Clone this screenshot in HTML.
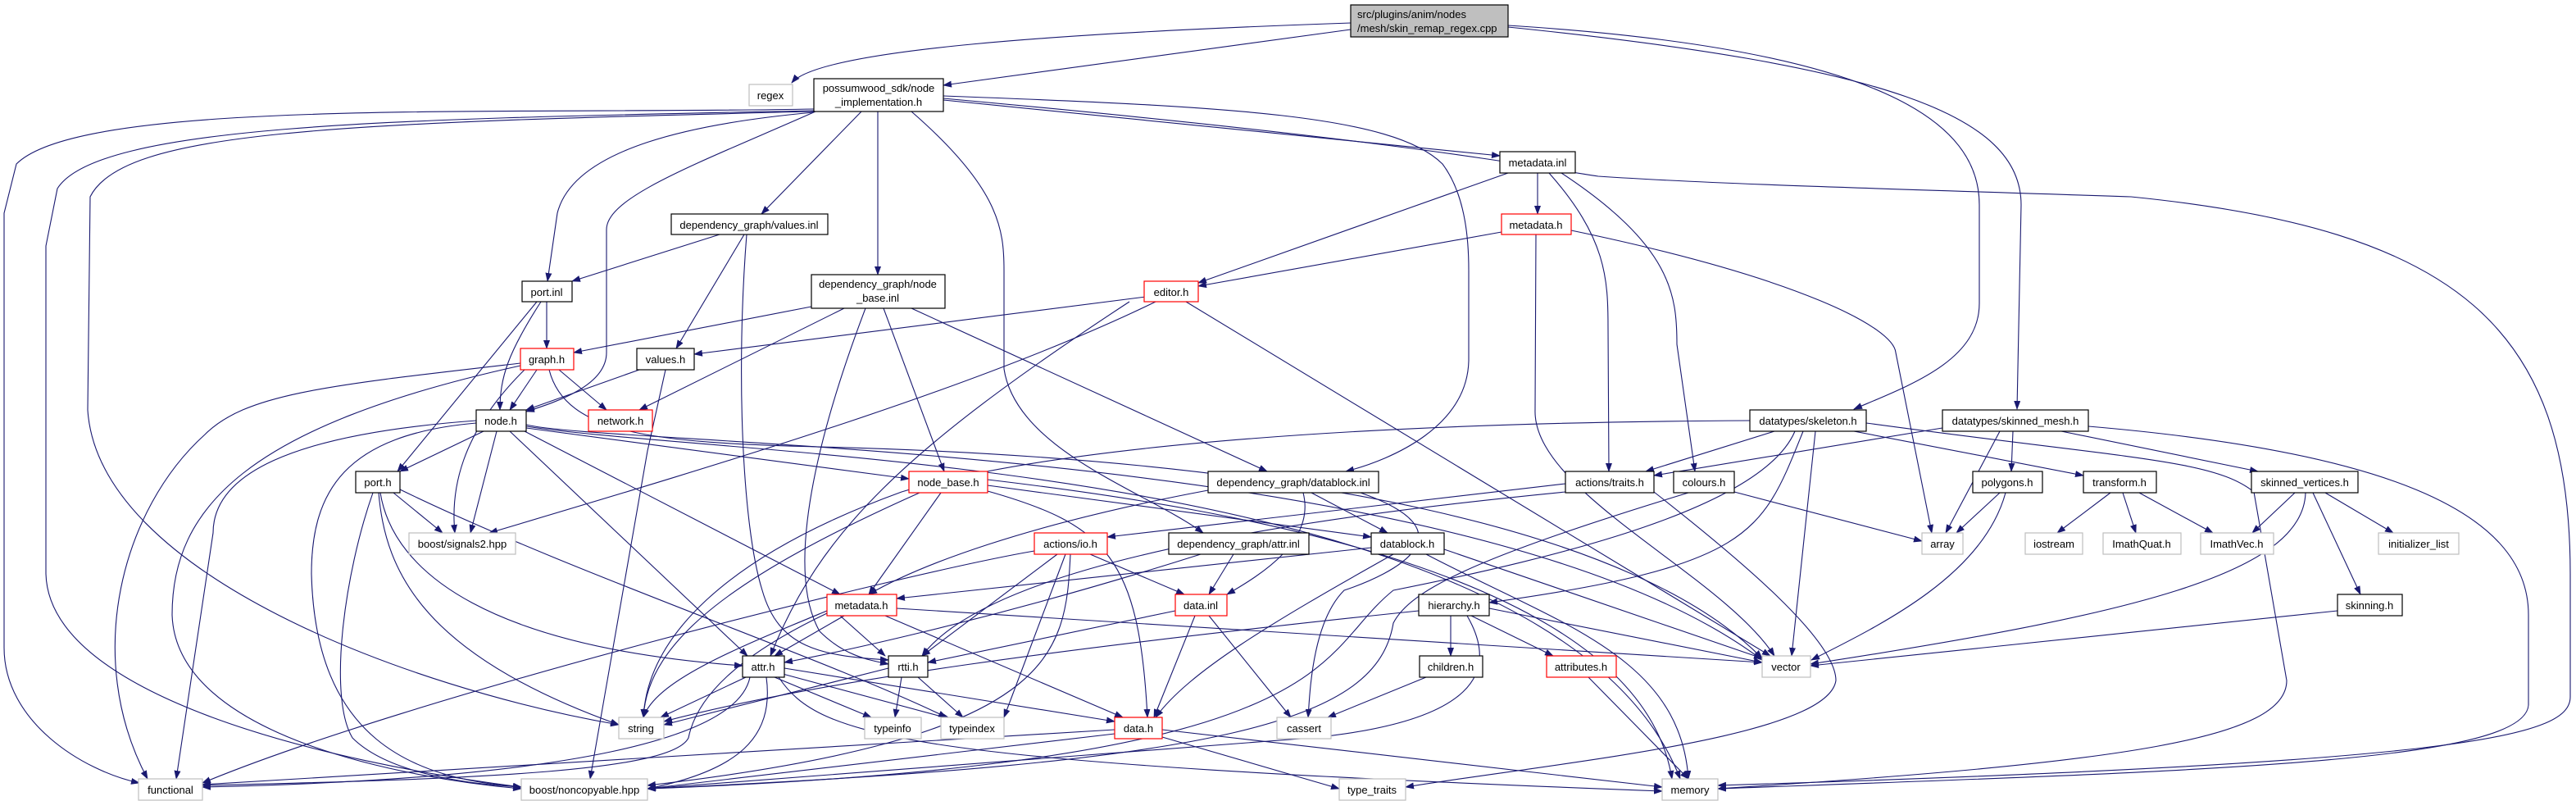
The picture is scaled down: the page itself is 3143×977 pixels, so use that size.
<!DOCTYPE html>
<html><head><meta charset="utf-8"><style>
html,body{margin:0;padding:0;background:#fff;}
svg{display:block;}
text{font-family:"Liberation Sans",sans-serif;font-size:13px;fill:#000;}
.e{fill:none;stroke:#191970;stroke-width:1.1;marker-end:url(#a);}
.b{fill:#fff;stroke:#000;stroke-width:1.2;}
.g{fill:#fff;stroke:#bfbfbf;stroke-width:1.2;}
.r{fill:#fff;stroke:#ff0000;stroke-width:1.2;}
</style></head><body>
<svg width="3143" height="977" viewBox="0 0 3143 977" xmlns="http://www.w3.org/2000/svg">
<defs><marker id="a" markerUnits="userSpaceOnUse" markerWidth="11" markerHeight="8" refX="10" refY="4" orient="auto"><path d="M0,0 L11,4 L0,8 z" fill="#191970"/></marker></defs>
<g>
<!-- src -->
<path class="e" d="M1648,28 C1300,40 1000,60 966,101"/>
<path class="e" d="M1648,36 L1151,104"/>
<path class="e" d="M1840,31 C2300,60 2415,150 2415,250 L2415,370 C2415,440 2330,470 2262,499"/>
<path class="e" d="M1840,33 C2300,80 2466,140 2466,250 L2461,499"/>
<!-- possumwood -->
<path class="e" d="M993,133 C600,140 100,120 20,200 L5,260 L5,790 C5,880 100,940 170,955"/>
<path class="e" d="M993,135 C500,145 120,150 70,230 L56,300 L56,700 C60,850 400,930 636,960"/>
<path class="e" d="M993,136 C400,150 150,160 110,240 L107,500 C120,700 500,840 755,884"/>
<path class="e" d="M993,137 C850,150 700,180 680,260 L668,343"/>
<path class="e" d="M995,136 C850,200 740,240 740,280 L740,430 C740,470 680,490 642,502"/>
<path class="e" d="M1051,136 L929,261"/>
<path class="e" d="M1071,136 L1071,335"/>
<path class="e" d="M1112,136 C1220,230 1225,280 1225,330 L1225,450 C1240,550 1400,600 1468,650"/>
<path class="e" d="M1151,117 C1500,130 1700,140 1760,200 C1790,240 1792,300 1792,330 L1792,440 C1790,520 1700,560 1642,575"/>
<path class="e" d="M1151,122 L1830,190"/>
<path class="e" d="M1151,120 C1700,170 1850,200 1950,215 C2100,225 2300,230 2600,240 C3000,280 3136,400 3136,700 L3136,850 C3136,900 3000,930 2096,958"/>
<!-- metadata.inl -->
<path class="e" d="M1840,211 L1462,345"/>
<path class="e" d="M1876,211 L1876,261"/>
<path class="e" d="M1890,211 C1960,290 1962,340 1962,400 L1963,575"/>
<path class="e" d="M1905,211 C2040,300 2046,360 2046,420 L2068,575"/>
<!-- metadata.h upper -->
<path class="e" d="M1832,283 L1462,349"/>
<path class="e" d="M1874,286 L1873,500 C1870,600 2100,700 2165,800"/>
<path class="e" d="M1917,281 C2200,340 2310,400 2313,430 L2357,650"/>
<!-- editor.h -->
<path class="e" d="M1398,362 L847,432"/>
<path class="e" d="M1410,368 C1200,470 900,560 597,650"/>
<path class="e" d="M1378,368 C1100,550 1000,650 940,800"/>
<path class="e" d="M1447,368 L2160,800"/>
<!-- values.inl -->
<path class="e" d="M878,286 L698,343"/>
<path class="e" d="M908,286 L825,425"/>
<path class="e" d="M911,286 C898,450 905,640 930,720 C950,790 1000,800 1084,805"/>
<!-- port.inl -->
<path class="e" d="M667,368 L667,425"/>
<path class="e" d="M660,368 C620,430 610,460 610,500"/>
<path class="e" d="M655,368 L485,575"/>
<!-- node_base.inl -->
<path class="e" d="M990,374 L700,430"/>
<path class="e" d="M1030,376 L780,500"/>
<path class="e" d="M1056,376 C990,550 960,700 1000,770 C1030,800 1060,805 1084,810"/>
<path class="e" d="M1078,376 L1152,575"/>
<path class="e" d="M1112,376 L1546,575"/>
<!-- graph.h -->
<path class="e" d="M655,451 L622,500"/>
<path class="e" d="M682,451 L740,500"/>
<path class="e" d="M640,451 C560,530 550,600 555,650"/>
<path class="e" d="M635,443 C400,470 300,480 250,530 C150,620 100,800 180,950"/>
<path class="e" d="M635,446 C300,520 210,620 210,750 C215,900 500,950 636,962"/>
<path class="e" d="M670,451 C690,530 800,540 1000,545 C1600,560 2000,650 2150,803"/>
<!-- values.h -->
<path class="e" d="M780,451 L642,500"/>
<path class="e" d="M812,451 L790,550 L720,950"/>
<!-- node.h -->
<path class="e" d="M590,526 L488,575"/>
<path class="e" d="M606,526 L574,650"/>
<path class="e" d="M622,526 L912,800"/>
<path class="e" d="M640,526 L1025,725"/>
<path class="e" d="M642,522 L1109,584"/>
<path class="e" d="M581,513 C350,530 260,580 260,650 L215,950"/>
<path class="e" d="M581,516 C420,530 380,600 380,700 C385,900 500,950 636,960"/>
<path class="e" d="M642,518 C750,545 1800,540 2150,805"/>
<path class="e" d="M642,520 C900,560 1900,560 2050,950"/>
<!-- port.h -->
<path class="e" d="M480,601 L540,650"/>
<path class="e" d="M462,601 C470,700 520,800 755,884"/>
<path class="e" d="M464,601 C480,700 600,790 906,812"/>
<path class="e" d="M455,601 C420,700 400,850 430,900 C480,950 600,958 636,960"/>
<path class="e" d="M488,597 C700,700 1000,800 1155,875"/>
<!-- node_base.h -->
<path class="e" d="M1148,601 L1060,725"/>
<path class="e" d="M1122,601 C900,700 790,780 785,875"/>
<path class="e" d="M1205,599 C1350,640 1390,680 1400,875"/>
<path class="e" d="M1205,592 L1673,655"/>
<path class="e" d="M1205,585 C1500,620 2000,700 2040,950"/>
<!-- datablock.inl -->
<path class="e" d="M1474,598 C1250,640 1120,690 1060,725"/>
<path class="e" d="M1590,601 C1605,660 1540,700 1497,725"/>
<path class="e" d="M1600,601 L1693,650"/>
<path class="e" d="M1660,601 C1800,650 1700,700 1640,720 C1600,760 1598,850 1596,875"/>
<!-- io.h -->
<path class="e" d="M1262,672 C1100,700 500,850 247,955"/>
<path class="e" d="M1290,676 L1125,800"/>
<path class="e" d="M1330,676 L1445,725"/>
<path class="e" d="M1300,676 L1225,875"/>
<path class="e" d="M1306,676 C1300,800 1290,900 790,958"/>
<!-- attr.inl -->
<path class="e" d="M1465,676 C1200,760 1000,800 957,808"/>
<path class="e" d="M1505,676 L1475,725"/>
<!-- metadata.h lower -->
<path class="e" d="M1030,751 L945,800"/>
<path class="e" d="M1009,745 C900,790 800,830 785,875"/>
<path class="e" d="M1080,751 L1370,875"/>
<path class="e" d="M1009,748 C900,800 850,850 840,900 C820,940 600,950 247,958"/>
<path class="e" d="M1094,742 L2150,808"/>
<path class="e" d="M1025,751 L1080,800"/>
<!-- data.inl -->
<path class="e" d="M1434,745 L1132,808"/>
<path class="e" d="M1458,751 L1408,875"/>
<path class="e" d="M1475,751 L1575,875"/>
<!-- attr.h -->
<path class="e" d="M910,826 L806,875"/>
<path class="e" d="M945,826 L1063,875"/>
<path class="e" d="M955,822 L1160,877"/>
<path class="e" d="M957,815 L1360,880"/>
<path class="e" d="M915,826 C900,900 700,950 247,960"/>
<path class="e" d="M935,826 C945,900 900,940 790,962"/>
<path class="e" d="M950,826 C1000,900 1100,930 2028,965"/>
<!-- rtti.h -->
<path class="e" d="M1084,815 L810,884"/>
<path class="e" d="M1100,826 L1092,875"/>
<path class="e" d="M1120,826 L1175,875"/>
<!-- data.h -->
<path class="e" d="M1360,890 L247,957"/>
<path class="e" d="M1360,895 L790,962"/>
<path class="e" d="M1418,890 L2028,960"/>
<path class="e" d="M1418,899 L1634,962"/>
<!-- skeleton -->
<path class="e" d="M2165,526 L2008,575"/>
<path class="e" d="M2262,526 L2542,580"/>
<path class="e" d="M2200,526 C2150,650 2140,690 1817,735"/>
<path class="e" d="M2215,526 L2186,800"/>
<path class="e" d="M2190,526 C2150,620 1900,680 1700,720 C1600,800 1650,930 790,962"/>
<path class="e" d="M2135,513 C1700,515 1300,540 1100,600 C880,680 790,780 785,875"/>
<path class="e" d="M2277,516 C2600,560 2700,560 2750,600 L2790,830 C2790,900 2600,930 2096,962"/>
<!-- skinned_mesh -->
<path class="e" d="M2370,522 L2018,580"/>
<path class="e" d="M2440,526 L2374,650"/>
<path class="e" d="M2456,526 L2454,575"/>
<path class="e" d="M2515,526 L2755,575"/>
<path class="e" d="M2548,520 C2900,550 3085,620 3085,750 L3085,860 C3080,930 2700,940 2096,962"/>
<!-- traits / colours / polygons / transform / skinned_vertices -->
<path class="e" d="M2018,600 C2120,680 2240,780 2240,830 C2230,900 1900,930 1715,960"/>
<path class="e" d="M1910,590 L1351,655"/>
<path class="e" d="M1910,600 C1500,640 1200,700 1125,800"/>
<path class="e" d="M2116,600 L2345,660"/>
<path class="e" d="M2060,601 C1800,680 1720,720 1700,760 C1680,880 1500,930 790,962"/>
<path class="e" d="M2440,601 L2387,650"/>
<path class="e" d="M2447,601 C2420,700 2300,760 2210,805"/>
<path class="e" d="M2575,601 L2510,650"/>
<path class="e" d="M2590,601 L2606,650"/>
<path class="e" d="M2610,601 L2700,650"/>
<path class="e" d="M2800,601 L2748,650"/>
<path class="e" d="M2837,601 L2920,650"/>
<path class="e" d="M2822,601 L2880,725"/>
<path class="e" d="M2813,601 C2810,700 2600,750 2209,810"/>
<path class="e" d="M2852,745 L2209,812"/>
<!-- datablock.h -->
<path class="e" d="M1673,668 L1094,730"/>
<path class="e" d="M1700,676 C1550,760 1450,820 1410,875"/>
<path class="e" d="M1762,670 L2150,803"/>
<path class="e" d="M1740,676 C1900,760 2050,800 2060,950"/>
<!-- hierarchy / children / attributes -->
<path class="e" d="M1770,751 L1770,800"/>
<path class="e" d="M1795,751 L1895,800"/>
<path class="e" d="M1817,742 L2150,808"/>
<path class="e" d="M1731,745 C1300,790 1000,830 810,880"/>
<path class="e" d="M1790,751 C1830,820 1800,880 1600,900 L790,962"/>
<path class="e" d="M1740,826 L1620,875"/>
<path class="e" d="M1938,826 L2060,950"/>
</g>
<g>
<rect x="1648" y="6" width="192" height="39" fill="#bfbfbf" stroke="#000" stroke-width="1.2"/>
<text x="1656" y="22">src/plugins/anim/nodes</text><text x="1656" y="39">/mesh/skin_remap_regex.cpp</text>
<rect class="g" x="914" y="103" width="53" height="26"/><text x="940" y="121" text-anchor="middle">regex</text>
<rect class="b" x="993" y="96" width="158" height="40"/><text x="1072" y="112" text-anchor="middle">possumwood_sdk/node</text><text x="1072" y="129" text-anchor="middle">_implementation.h</text>
<rect class="b" x="1830" y="185" width="92" height="26"/><text x="1876" y="203" text-anchor="middle">metadata.inl</text>
<rect class="b" x="819" y="261" width="191" height="25"/><text x="914" y="279" text-anchor="middle">dependency_graph/values.inl</text>
<rect class="r" x="1832" y="261" width="85" height="25"/><text x="1874" y="279" text-anchor="middle">metadata.h</text>
<rect class="b" x="637" y="343" width="61" height="25"/><text x="667" y="361" text-anchor="middle">port.inl</text>
<rect class="b" x="990" y="335" width="163" height="41"/><text x="1071" y="351" text-anchor="middle">dependency_graph/node</text><text x="1071" y="368" text-anchor="middle">_base.inl</text>
<rect class="r" x="1396" y="343" width="66" height="25"/><text x="1429" y="361" text-anchor="middle">editor.h</text>
<rect class="r" x="635" y="425" width="65" height="26"/><text x="667" y="443" text-anchor="middle">graph.h</text>
<rect class="b" x="777" y="425" width="70" height="26"/><text x="812" y="443" text-anchor="middle">values.h</text>
<rect class="r" x="718" y="500" width="78" height="26"/><text x="757" y="518" text-anchor="middle">network.h</text>
<rect class="b" x="581" y="500" width="61" height="26"/><text x="611" y="518" text-anchor="middle">node.h</text>
<rect class="b" x="2135" y="500" width="142" height="26"/><text x="2206" y="518" text-anchor="middle">datatypes/skeleton.h</text>
<rect class="b" x="2370" y="500" width="178" height="26"/><text x="2459" y="518" text-anchor="middle">datatypes/skinned_mesh.h</text>
<rect class="b" x="434" y="575" width="54" height="26"/><text x="461" y="593" text-anchor="middle">port.h</text>
<rect class="r" x="1109" y="575" width="96" height="26"/><text x="1157" y="593" text-anchor="middle">node_base.h</text>
<rect class="b" x="1474" y="575" width="208" height="26"/><text x="1578" y="593" text-anchor="middle">dependency_graph/datablock.inl</text>
<rect class="b" x="1910" y="575" width="108" height="26"/><text x="1964" y="593" text-anchor="middle">actions/traits.h</text>
<rect class="b" x="2042" y="575" width="74" height="26"/><text x="2079" y="593" text-anchor="middle">colours.h</text>
<rect class="b" x="2407" y="575" width="85" height="26"/><text x="2449" y="593" text-anchor="middle">polygons.h</text>
<rect class="b" x="2542" y="575" width="89" height="26"/><text x="2586" y="593" text-anchor="middle">transform.h</text>
<rect class="b" x="2747" y="575" width="130" height="26"/><text x="2812" y="593" text-anchor="middle">skinned_vertices.h</text>
<rect class="g" x="499" y="650" width="130" height="26"/><text x="564" y="668" text-anchor="middle">boost/signals2.hpp</text>
<rect class="r" x="1262" y="650" width="89" height="26"/><text x="1306" y="668" text-anchor="middle">actions/io.h</text>
<rect class="b" x="1426" y="650" width="171" height="26"/><text x="1511" y="668" text-anchor="middle">dependency_graph/attr.inl</text>
<rect class="b" x="1673" y="650" width="89" height="26"/><text x="1717" y="668" text-anchor="middle">datablock.h</text>
<rect class="g" x="2345" y="650" width="50" height="26"/><text x="2370" y="668" text-anchor="middle">array</text>
<rect class="g" x="2471" y="650" width="70" height="26"/><text x="2506" y="668" text-anchor="middle">iostream</text>
<rect class="g" x="2566" y="650" width="95" height="26"/><text x="2613" y="668" text-anchor="middle">ImathQuat.h</text>
<rect class="g" x="2685" y="650" width="89" height="26"/><text x="2729" y="668" text-anchor="middle">ImathVec.h</text>
<rect class="g" x="2902" y="650" width="98" height="26"/><text x="2951" y="668" text-anchor="middle">initializer_list</text>
<rect class="r" x="1009" y="725" width="85" height="26"/><text x="1051" y="743" text-anchor="middle">metadata.h</text>
<rect class="r" x="1434" y="725" width="63" height="26"/><text x="1465" y="743" text-anchor="middle">data.inl</text>
<rect class="b" x="1731" y="725" width="86" height="26"/><text x="1774" y="743" text-anchor="middle">hierarchy.h</text>
<rect class="b" x="2852" y="725" width="79" height="26"/><text x="2891" y="743" text-anchor="middle">skinning.h</text>
<rect class="b" x="906" y="800" width="51" height="26"/><text x="931" y="818" text-anchor="middle">attr.h</text>
<rect class="b" x="1084" y="800" width="48" height="26"/><text x="1108" y="818" text-anchor="middle">rtti.h</text>
<rect class="b" x="1732" y="800" width="77" height="26"/><text x="1770" y="818" text-anchor="middle">children.h</text>
<rect class="r" x="1887" y="800" width="85" height="26"/><text x="1929" y="818" text-anchor="middle">attributes.h</text>
<rect class="g" x="2150" y="800" width="59" height="26"/><text x="2179" y="818" text-anchor="middle">vector</text>
<rect class="g" x="755" y="875" width="55" height="26"/><text x="782" y="893" text-anchor="middle">string</text>
<rect class="g" x="1055" y="875" width="69" height="26"/><text x="1089" y="893" text-anchor="middle">typeinfo</text>
<rect class="g" x="1148" y="875" width="77" height="26"/><text x="1186" y="893" text-anchor="middle">typeindex</text>
<rect class="r" x="1360" y="875" width="58" height="26"/><text x="1389" y="893" text-anchor="middle">data.h</text>
<rect class="g" x="1558" y="875" width="66" height="26"/><text x="1591" y="893" text-anchor="middle">cassert</text>
<rect class="g" x="169" y="950" width="78" height="26"/><text x="208" y="968" text-anchor="middle">functional</text>
<rect class="g" x="636" y="950" width="154" height="26"/><text x="713" y="968" text-anchor="middle">boost/noncopyable.hpp</text>
<rect class="g" x="1634" y="950" width="81" height="26"/><text x="1674" y="968" text-anchor="middle">type_traits</text>
<rect class="g" x="2028" y="950" width="68" height="26"/><text x="2062" y="968" text-anchor="middle">memory</text>
</g>
</svg>
</body></html>
